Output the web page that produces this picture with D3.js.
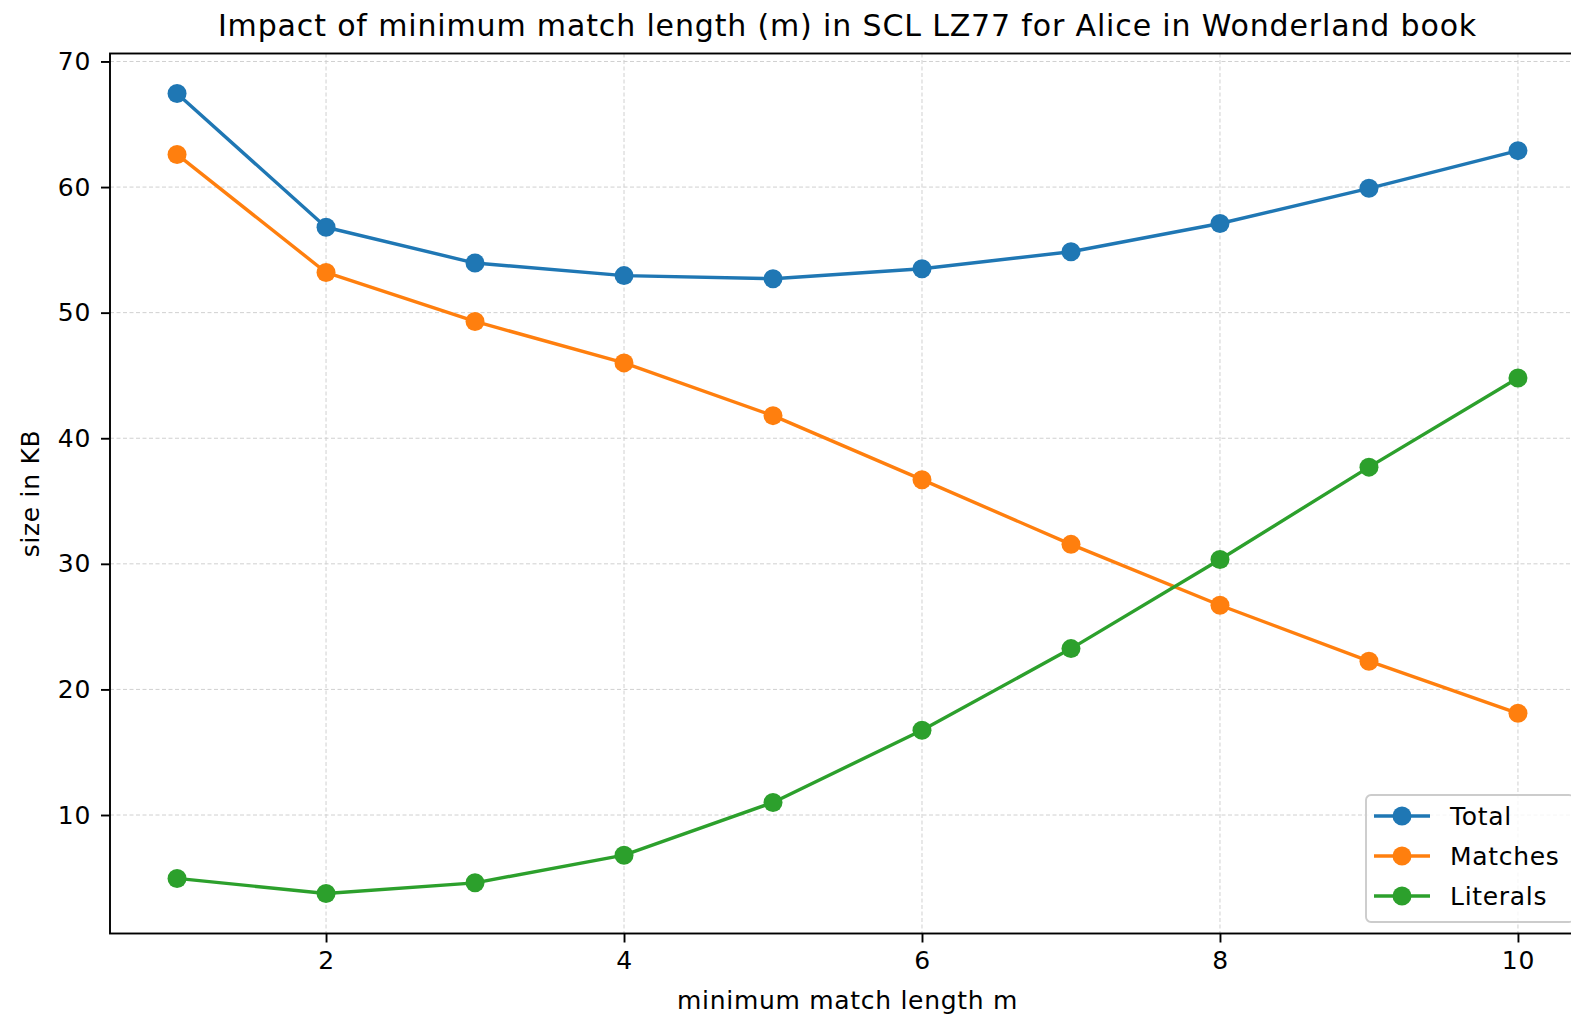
<!DOCTYPE html>
<html lang="en">
<head>
    <meta charset="UTF-8">
    <script src="https://cdnjs.cloudflare.com/ajax/libs/d3/7.8.5/d3.min.js"></script>
    <style>
        body { margin: 0; background: #fff; }
        svg { display: block; font-family: "DejaVu Sans", sans-serif; }
        .lbl { font-size: 25px; letter-spacing: 0.7px; }
    </style>
</head>
<body>
    <svg id="chart" width="1571" height="1020"></svg>
    <script>
        // minimum match length values (x axis)
        const minLengths = [1, 2, 3, 4, 5, 6, 7, 8, 9, 10];
        // sizes in KB
        const totalKB    = [67.45, 56.8, 53.95, 52.95, 52.7, 53.5, 54.85, 57.1, 59.9, 62.9];
        const matchesKB  = [62.6, 53.2, 49.3, 46.0, 41.8, 36.7, 31.55, 26.7, 22.25, 18.1];
        const literalsKB = [4.95, 3.75, 4.6, 6.8, 11.0, 16.75, 23.25, 30.35, 37.7, 44.8];
        const seriesNames = ['Total', 'Matches', 'Literals'];
        const seriesColors = ['#1f77b4', '#ff7f0e', '#2ca02c'];
        const xTicks = [2, 4, 6, 8, 10];
        const yTicks = [10, 20, 30, 40, 50, 60, 70];

        const series = [totalKB, matchesKB, literalsKB].map((vals, i) => ({
            name: seriesNames[i],
            color: seriesColors[i],
            points: vals.map((v, j) => ({ x: minLengths[j], y: v }))
        }));

        const plotL = 110, plotR = 1585, plotT = 53.5, plotB = 933.5;
        const svg = d3.select('#chart');

        const xExt = d3.extent(minLengths);
        const xPad = (xExt[1] - xExt[0]) * 0.05;
        const x = d3.scaleLinear().domain([xExt[0] - xPad, xExt[1] + xPad]).range([plotL, plotR]);

        const allVals = totalKB.concat(matchesKB, literalsKB);
        const yExt = d3.extent(allVals);
        const yPad = (yExt[1] - yExt[0]) * 0.05;
        const y = d3.scaleLinear().domain([yExt[0] - yPad, yExt[1] + yPad]).range([plotB, plotT]);

        // grid
        const grid = svg.append('g').attr('stroke', '#d0d0d0').attr('stroke-width', 1)
            .attr('stroke-dasharray', '4,2.5');
        grid.selectAll('.gx').data(xTicks).enter().append('line')
            .attr('x1', d => x(d)).attr('x2', d => x(d))
            .attr('y1', plotT).attr('y2', plotB);
        grid.selectAll('.gy').data(yTicks).enter().append('line')
            .attr('x1', plotL).attr('x2', plotR)
            .attr('y1', d => y(d)).attr('y2', d => y(d));

        // lines + markers
        const line = d3.line().x(d => x(d.x)).y(d => y(d.y));
        series.forEach(s => {
            svg.append('path')
                .datum(s.points)
                .attr('d', line)
                .attr('fill', 'none')
                .attr('stroke', s.color)
                .attr('stroke-width', 3.4)
                .attr('stroke-linejoin', 'round');
            svg.append('g').selectAll('circle')
                .data(s.points)
                .enter()
                .append('circle')
                .attr('cx', d => x(d.x))
                .attr('cy', d => y(d.y))
                .attr('r', 9.5)
                .attr('fill', s.color);
        });

        // axes
        const xAxis = d3.axisBottom(x).tickValues(xTicks).tickSize(9).tickPadding(9);
        const yAxis = d3.axisLeft(y).tickValues(yTicks).tickSize(9).tickPadding(10);
        const gx = svg.append('g').attr('transform', `translate(0,${plotB})`).call(xAxis);
        const gy = svg.append('g').attr('transform', `translate(${plotL},0)`).call(yAxis);
        [gx, gy].forEach(g => {
            g.attr('font-size', null).attr('font-family', null);
            g.select('.domain').remove();
            g.selectAll('line').attr('stroke', '#000').attr('stroke-width', 1.9);
            g.selectAll('text').attr('fill', '#000').attr('class', 'lbl');
        });

        // spines
        svg.append('rect')
            .attr('x', plotL).attr('y', plotT)
            .attr('width', plotR - plotL).attr('height', plotB - plotT)
            .attr('fill', 'none').attr('stroke', '#000').attr('stroke-width', 1.9);

        // legend
        const legW = 208, legH = 127, rowH = 40;
        const legX = plotR - 11 - legW, legY = plotB - 11.5 - legH;
        const leg = svg.append('g').attr('transform', `translate(${legX},${legY})`);
        leg.append('rect')
            .attr('width', legW).attr('height', legH).attr('rx', 5)
            .attr('fill', 'rgba(255,255,255,0.8)').attr('stroke', '#cccccc').attr('stroke-width', 1.9);
        const items = leg.selectAll('.item').data(series).enter().append('g')
            .attr('transform', (d, i) => `translate(0,${21 + i * rowH})`);
        items.append('line')
            .attr('x1', 8).attr('x2', 64).attr('y1', 0).attr('y2', 0)
            .attr('stroke', d => d.color).attr('stroke-width', 3.4);
        items.append('circle').attr('cx', 36).attr('r', 9.5).attr('fill', d => d.color);
        items.append('text')
            .attr('class', 'lbl')
            .attr('x', 84).attr('y', 0).attr('dy', '0.35em')
            .attr('fill', '#000')
            .text(d => d.name);

        // title and labels
        svg.append('text')
            .attr('x', (plotL + plotR) / 2).attr('y', 36)
            .attr('text-anchor', 'middle')
            .style('font-size', '30px').style('letter-spacing', '0.85px').attr('fill', '#000')
            .text('Impact of minimum match length (m) in SCL LZ77 for Alice in Wonderland book');
        svg.append('text')
            .attr('class', 'lbl')
            .attr('x', (plotL + plotR) / 2).attr('y', 1009)
            .attr('text-anchor', 'middle')
            .attr('fill', '#000')
            .text('minimum match length m');
        svg.append('text')
            .attr('class', 'lbl')
            .attr('transform', `translate(39,${(plotT + plotB) / 2}) rotate(-90)`)
            .attr('text-anchor', 'middle')
            .attr('fill', '#000')
            .text('size in KB');
    </script>
</body>
</html>
